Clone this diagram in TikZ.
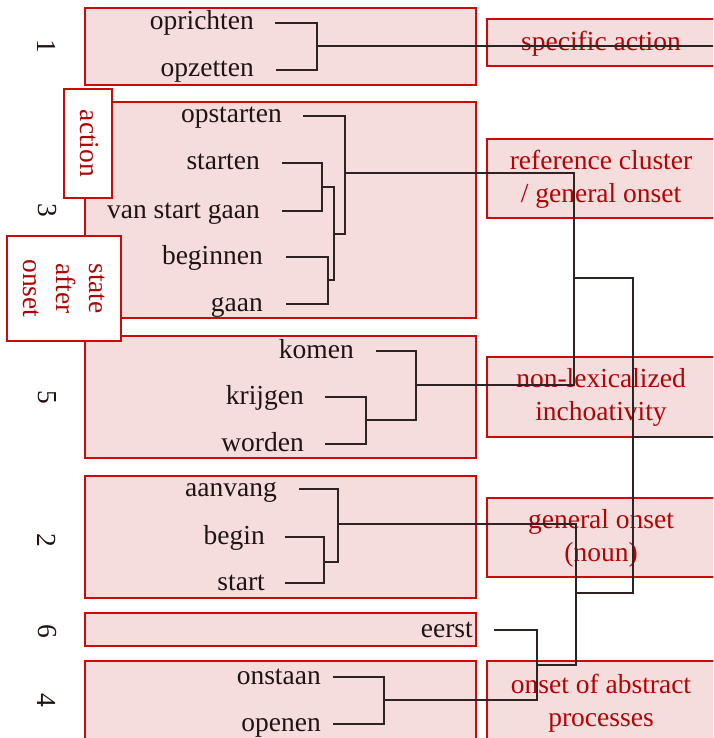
\documentclass[tikz,border=0pt]{standalone}
\usepackage{fontspec}
\setmainfont{Liberation Serif}
\definecolor{bfill}{RGB}{245,220,221}
\definecolor{bred}{RGB}{204,10,10}
\definecolor{tred}{RGB}{175,5,5}
\definecolor{wtext}{RGB}{30,20,20}
\definecolor{lcol}{RGB}{45,35,35}
\begin{document}
\begin{tikzpicture}[x=1pt,y=-1pt,
  clbox/.style={draw=bred, fill=bfill, line width=1.3pt},
  lblbox/.style={draw=bred, fill=white, line width=1.3pt},
  word/.style={anchor=east, inner sep=0pt, text height=17pt, text depth=3pt, text=wtext, font=\fontsize{27.5}{33}\selectfont},
  num/.style={rotate=-90, inner sep=0pt, text=wtext, font=\fontsize{27.5}{33}\selectfont},
  sense/.style={text=tred, align=center, inner sep=0pt, font=\fontsize{27.5}{33}\selectfont},
  lbl/.style={text=tred, align=center, rotate=-90, inner sep=0pt, font=\fontsize{27.5}{33}\selectfont},
  link/.style={draw=lcol, line width=1.3pt}]
\clip (0,0) rectangle (713,738);
\fill[white] (0,0) rectangle (713,738);
% cluster boxes
\path[clbox] (85,8) rectangle (476,85);
\path[clbox] (85,102) rectangle (476,318);
\path[clbox] (85,336) rectangle (476,458);
\path[clbox] (85,476) rectangle (476,598);
\path[clbox] (85,613) rectangle (476,646);
\path[clbox] (85,661) rectangle (476,760);
% sense boxes
\path[clbox] (487,19) rectangle (760,66);
\path[clbox] (487,139) rectangle (760,218);
\path[clbox] (487,357) rectangle (760,437);
\path[clbox] (487,498) rectangle (760,577);
\path[clbox] (487,661) rectangle (760,760);
\node[sense] (s1) at (601,44) {specific action};
\node[sense] (s2) at (601,179) {reference cluster\\/ general onset};
\node[sense] (s3) at (601,397) {non-lexicalized\\inchoativity};
\node[sense] (s4) at (601,538) {general onset\\(noun)};
\node[sense] (s5) at (601,703) {onset of abstract\\processes};
% label boxes
\path[lblbox] (64,89) rectangle (112,198);
\node[lbl] (lact) at (89,143.5) {action};
\path[lblbox] (7,236) rectangle (121,341);
\node[lbl] (lstate) at (64,288.5) {state\\after\\onset};
% numbers
\node[num] (n1) at (47,46) {1};
\node[num] (n3) at (47,210) {3};
\node[num] (n5) at (47,397) {5};
\node[num] (n2) at (47,540) {2};
\node[num] (n6) at (47,631) {6};
\node[num] (n4) at (47,700) {4};
% words
\node[word] (opr) at (254,23) {oprichten};
\node[word] (opz) at (254,70) {opzetten};
\node[word] (opst) at (282,116) {opstarten};
\node[word] (st) at (260,163) {starten};
\node[word] (vsg) at (260,211) {van start gaan};
\node[word] (beg) at (263,257) {beginnen};
\node[word] (gaan) at (263,304) {gaan};
\node[word] (kom) at (354,351) {komen};
\node[word] (krij) at (304,397) {krijgen};
\node[word] (word) at (304,444) {worden};
\node[word] (aanv) at (277,489) {aanvang};
\node[word] (begin) at (265,537) {begin};
\node[word] (start) at (265,583) {start};
\node[word] (eerst) at (473,630) {eerst};
\node[word] (onst) at (321,677) {onstaan};
\node[word] (open) at (321,724) {openen};
% connectors
\coordinate (j1) at (317,46);
\coordinate (e1) at (720,46);
\draw[link] ([xshift=21pt]opr.east) -| (j1) |- ([xshift=22pt]opz.east);
\draw[link] (j1) -- (e1);
\coordinate (j3a) at (322,187);
\coordinate (j3b) at (328,280);
\coordinate (j3c) at (334,234);
\coordinate (j3d) at (345,173);
\draw[link] ([xshift=22pt]st.east) -| (j3a) |- ([xshift=22pt]vsg.east);
\draw[link] ([xshift=23pt]beg.east) -| (j3b) |- ([xshift=23pt]gaan.east);
\draw[link] (j3a) -| (j3c) |- (j3b);
\draw[link] ([xshift=21pt]opst.east) -| (j3d) |- (j3c);
\coordinate (j5a) at (366,420);
\coordinate (j5b) at (416,385);
\draw[link] ([xshift=21pt]krij.east) -| (j5a) |- ([xshift=21pt]word.east);
\draw[link] ([xshift=22pt]kom.east) -| (j5b) |- (j5a);
\coordinate (j35) at (574,278);
\draw[link] (j3d) -| (j35) |- (j5b);
\coordinate (j2a) at (324,562);
\coordinate (j2b) at (338,524);
\draw[link] ([xshift=20pt]begin.east) -| (j2a) |- ([xshift=20pt]start.east);
\draw[link] ([xshift=22pt]aanv.east) -| (j2b) |- (j2a);
\coordinate (j4) at (384,700);
\draw[link] ([xshift=12pt]onst.east) -| (j4) |- ([xshift=12pt]open.east);
\coordinate (j64) at (537,665);
\draw[link] ([xshift=21pt]eerst.east) -| (j64) |- (j4);
\coordinate (j264) at (576,593);
\draw[link] (j2b) -| (j264) |- (j64);
\coordinate (root) at (633,437);
\coordinate (eroot) at (720,437);
\draw[link] (j35) -| (root) |- (j264);
\draw[link] (root) -- (eroot);
\end{tikzpicture}
\end{document}
